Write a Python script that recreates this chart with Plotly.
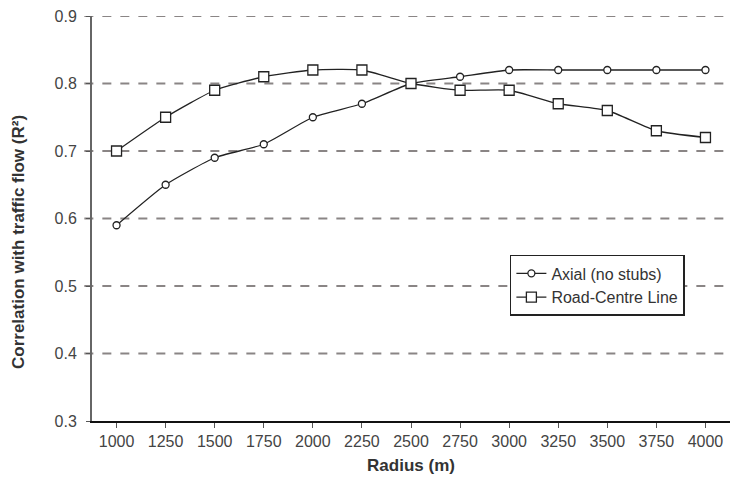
import plotly.graph_objects as go

radius = [1000, 1250, 1500, 1750, 2000, 2250, 2500, 2750, 3000, 3250, 3500, 3750, 4000]
axial = [0.59, 0.65, 0.69, 0.71, 0.75, 0.77, 0.80, 0.81, 0.82, 0.82, 0.82, 0.82, 0.82]
road = [0.70, 0.75, 0.79, 0.81, 0.82, 0.82, 0.80, 0.79, 0.79, 0.77, 0.76, 0.73, 0.72]
y_ticks = [0.3, 0.4, 0.5, 0.6, 0.7, 0.8, 0.9]

font = "Liberation Sans, Arial, sans-serif"
fig = go.Figure()
fig.add_trace(go.Scatter(
    x=radius, y=axial, name="Axial (no stubs)", mode="lines+markers",
    line=dict(color="#222", width=1.3, shape="spline", smoothing=0.5),
    marker=dict(symbol="circle", size=7, color="white", line=dict(color="#222", width=1.3)),
))
fig.add_trace(go.Scatter(
    x=radius, y=road, name="Road-Centre Line", mode="lines+markers",
    line=dict(color="#222", width=1.3, shape="spline", smoothing=0.5),
    marker=dict(symbol="square", size=10, color="white", line=dict(color="#222", width=1.3)),
))
for v in y_ticks[1:]:
    fig.add_shape(type="line", xref="paper", yref="y", x0=-0.012, x1=1, y0=v, y1=v,
                  line=dict(color="#8a8585", width=2, dash="dash"), layer="below")

fig.add_annotation(text="<b>Correlation with traffic flow (R²)</b>", textangle=-90,
                   xref="paper", yref="paper", x=-73 / 638, y=0.442,
                   xanchor="center", yanchor="middle", showarrow=False,
                   font=dict(size=17, color="#333"))

fig.update_layout(
    width=730, height=488,
    margin=dict(l=92, r=0, t=16, b=67, autoexpand=False),
    plot_bgcolor="white", paper_bgcolor="white",
    font=dict(family=font, size=16, color="#333"),
    showlegend=True,
    legend=dict(x=0.655, y=0.41, xanchor="left", yanchor="top",
                bgcolor="white", bordercolor="#222", borderwidth=1.5,
                font=dict(size=16, color="#333"), tracegroupgap=0),
    xaxis=dict(range=[875, 4125], tickvals=radius, ticktext=[str(r) for r in radius],
               automargin=False,
               showgrid=False, zeroline=False, showline=True, linecolor="#111", linewidth=2,
               ticks="outside", ticklen=5, tickcolor="#555", tickfont=dict(size=16, color="#444"),
               title=dict(text="<b>Radius (m)</b>", font=dict(size=17, color="#333"), standoff=10)),
    yaxis=dict(range=[0.3, 0.9], tickvals=y_ticks, ticktext=[f"{v:.1f}" for v in y_ticks],
               automargin=False, ticklabelstandoff=6,
               showgrid=False, zeroline=False, showline=True, linecolor="#666", linewidth=2,
               ticks="outside", ticklen=4, tickcolor="#555", tickfont=dict(size=16, color="#444")),
)
fig.write_html("out.html", config={"displayModeBar": False},
               post_script="document.body.style.margin='0';")
